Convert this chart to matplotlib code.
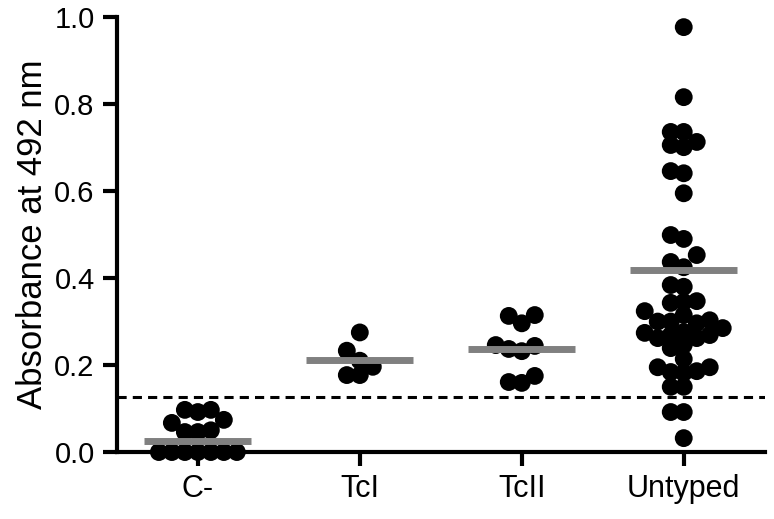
import matplotlib.pyplot as plt
import numpy as np

plt.rcParams['font.family'] = ['Liberation Sans', 'DejaVu Sans']

groups = ['C-', 'TcI', 'TcII', 'Untyped']
c_neg = [0.0, 0.0, 0.0, 0.0, 0.0, 0.0, 0.0,
         0.046, 0.046, 0.05, 0.067, 0.074, 0.092, 0.097, 0.097]
tc1 = [0.275, 0.233, 0.21, 0.196, 0.177, 0.177]
tc2 = [0.313, 0.315, 0.296, 0.246, 0.244, 0.237, 0.232, 0.175, 0.161, 0.159]
untyped = [0.977, 0.816, 0.736, 0.736, 0.713, 0.706, 0.701, 0.646, 0.641, 0.595,
           0.499, 0.49, 0.453, 0.437, 0.425, 0.384, 0.38, 0.347, 0.345, 0.343,
           0.324, 0.315, 0.303, 0.3, 0.3, 0.296, 0.285, 0.276, 0.274, 0.269,
           0.269, 0.262, 0.262, 0.246, 0.239, 0.214, 0.195, 0.195, 0.186, 0.184,
           0.182, 0.15, 0.15, 0.092, 0.092, 0.032]
means = [0.026, 0.212, 0.237, 0.418]
cutoff = 0.126

fig = plt.figure(figsize=(7.74, 5.19), dpi=100)
ax = fig.add_axes([0.151, 0.129, 0.837, 0.838])
ax.set_xlim(-0.5, 3.5)
ax.set_ylim(0, 1.0)

# pixels per data unit, used to lay out the swarm
p0 = ax.transData.transform((0, 0))
p1 = ax.transData.transform((1, 1))
x_px, y_px = p1 - p0


def swarm(vals, step=13.0):
    vals = np.asarray(vals)
    placed = []
    offs = np.zeros(len(vals))
    for i in np.argsort(vals):
        y = vals[i] * y_px
        for k in [0, -1, 1, -2, 2, -3, 3, -4, 4, -5, 5]:
            x = k * step
            if all((x - a) ** 2 + (y - b) ** 2 >= step ** 2 - 1 for a, b in placed):
                break
        placed.append((x, y))
        offs[i] = x / x_px
    return offs


for i, vals in enumerate([c_neg, tc1, tc2, untyped]):
    xs = i + swarm(vals)
    ax.scatter(xs, vals, s=165, color='black', edgecolors='none', zorder=3, clip_on=False)
    ax.plot([i - 0.33, i + 0.33], [means[i], means[i]], color='#808080', lw=5,
            solid_capstyle='butt', zorder=4)

ax.axhline(cutoff, color='black', lw=2.2, ls=(0, (3, 2)), zorder=2)

for side in ['top', 'right']:
    ax.spines[side].set_visible(False)
for side in ['left', 'bottom']:
    ax.spines[side].set_linewidth(3)

ax.set_xticks(range(len(groups)))
ax.set_xticklabels(groups)
ax.set_yticks(np.arange(0, 1.01, 0.2))
ax.set_yticklabels(['%.1f' % v for v in np.arange(0, 1.01, 0.2)])
ax.tick_params(axis='both', direction='out', length=10, width=3, pad=6)
ax.tick_params(axis='x', labelsize=22)
ax.tick_params(axis='y', labelsize=21)
ax.set_ylabel('Absorbance at 492 nm', fontsize=25, labelpad=4)

fig.savefig('out.png', dpi=100)
